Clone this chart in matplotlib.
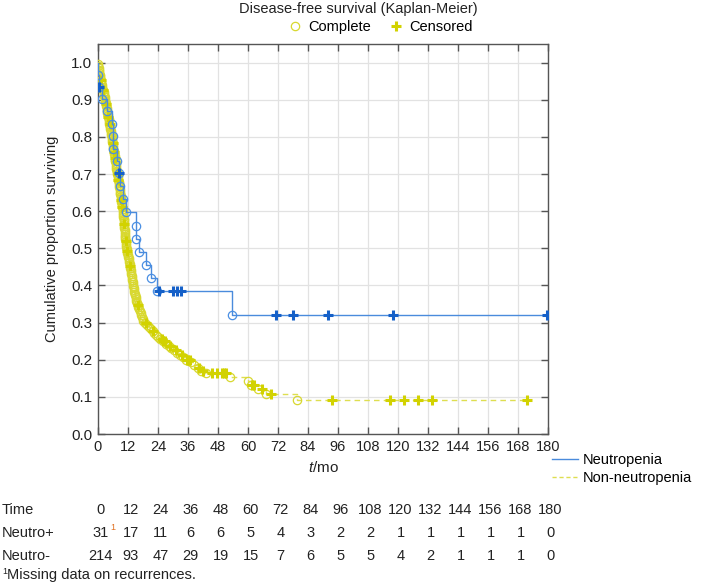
import matplotlib
matplotlib.use("Agg")
import matplotlib.pyplot as plt
from matplotlib.lines import Line2D
from matplotlib.transforms import blended_transform_factory

plt.rcParams['font.family'] = ['Liberation Sans', 'DejaVu Sans']
plt.rcParams['mathtext.fontset'] = 'custom'
plt.rcParams['mathtext.it'] = 'Liberation Sans:italic'
plt.rcParams['mathtext.rm'] = 'Liberation Sans'

# ---------------- data ----------------
n_neutro = 31
events_neutro = [0.2, 0.3, 1.7, 3.7, 5.7, 6.0, 6.2, 7.7, 8.3, 8.9, 10.1, 11.2,
                 15.0, 15.3, 16.3, 19.1, 21.3, 23.5, 53.7]
censor_neutro = [0.4, 8.4, 24.5, 29.9, 31.5, 31.5, 33.1, 71.2, 78.1, 92.1, 117.9, 179.5]

n_non = 214
events_non = [
    0.1, 0.2, 0.3, 0.4, 0.5, 0.6, 0.7, 0.9, 1.0, 1.1, 1.3, 1.4, 1.5, 1.7, 1.8, 2.0, 2.3, 2.4, 2.6, 2.8,
    2.9, 3.0, 3.1, 3.2, 3.4, 3.5, 3.6, 3.7, 3.8, 3.9, 4.0, 4.3, 4.4, 4.5, 4.6, 4.8, 4.9, 5.0, 5.1, 5.3,
    5.4, 5.5, 5.6, 5.7, 5.8, 5.9, 6.0, 6.1, 6.2, 6.3, 6.4, 6.6, 6.7, 6.8, 6.9, 7.0, 7.1, 7.2, 7.3, 7.4, 7.6,
    7.7, 7.8, 8.0, 8.1, 8.2, 8.3, 8.4, 8.5, 8.6, 8.7, 8.8, 8.9, 9.0, 9.1, 9.2, 9.3, 9.4, 9.5, 9.6, 9.7, 9.9,
    10.0, 10.1, 10.15, 10.2, 10.3, 10.35, 10.4, 10.5, 10.55, 10.6, 10.7, 10.75, 10.8, 10.9, 10.95, 11.0, 11.1,
    11.2, 11.3, 11.4, 11.5,
    11.6, 11.8, 11.9,
    12.1, 12.2, 12.3, 12.45, 12.6, 12.7, 12.85, 13.0, 13.1, 13.25, 13.4, 13.5,
    13.65, 13.8, 13.95, 14.1, 14.25, 14.4, 14.55, 14.7, 14.85, 15.0, 15.15, 15.3, 15.5,
    15.8, 16.1, 16.4, 16.7, 17.0, 17.3, 17.6, 17.8, 18.0,
    18.7, 19.5, 20.3, 21.0,
    21.8, 22.5, 23.2, 23.9,
    24.7, 25.8, 27.0, 28.2, 29.3, 30.5, 31.6, 32.7, 34.0, 35.2,
    37.0, 38.5, 39.8, 41.0, 43.2,
    52.8, 60.1, 61.2, 64.0, 67.0, 79.7]
censor_non = [1.2, 2.2, 3.3, 4.1, 4.7, 5.9, 6.5, 6.8, 7.9, 8.2, 9.3, 9.7, 10.5, 11.1, 11.7,
              12.8, 16.0, 19.0, 22.0,
              25.5, 26.1, 26.8, 28.8, 31.0, 33.5, 35.5, 35.8,
              36.8, 40.3, 41.9, 45.5, 47.5,
              49.5, 50.2, 51.0,
              61.5, 62.5, 65.5, 69.0,
              93.5, 116.8, 122.4, 128.1, 133.7, 171.7]

time_ticks = [0, 12, 24, 36, 48, 60, 72, 84, 96, 108, 120, 132, 144, 156, 168, 180]
at_risk_neutro = [31, 17, 11, 6, 6, 5, 4, 3, 2, 2, 1, 1, 1, 1, 1, 0]
at_risk_non = [214, 93, 47, 29, 19, 15, 7, 6, 5, 5, 4, 2, 1, 1, 1, 0]
y_ticks = [0.0, 0.1, 0.2, 0.3, 0.4, 0.5, 0.6, 0.7, 0.8, 0.9, 1.0]


def kaplan_meier(events, censors, n0):
    times = sorted(set(events) | set(censors))
    n = n0
    s = 1.0
    xs, ys = [0.0], [1.0]
    ev, ce = [], []
    for t in times:
        d = events.count(t)
        c = censors.count(t)
        if d:
            xs.append(t); ys.append(s)
            s *= (1 - d / n)
            xs.append(t); ys.append(s)
            ev.append((t, s))
        if c:
            ce.append((t, s))
        n -= d + c
    xs.append(times[-1]); ys.append(s)
    return xs, ys, ev, ce


BLUE_LINE = '#4a8bdc'
BLUE_CIRC = '#4a8fe3'
BLUE_PLUS = '#1560c8'
YEL_LINE = '#dede50'
YEL_CIRC = '#d8d830'
YEL_PLUS = '#d2d200'

fig = plt.figure(figsize=(7.04, 5.83), dpi=100)
ax = fig.add_axes([98 / 704, 1 - 434 / 583, 450 / 704, 390 / 583])

# non-neutropenia
xs, ys, ev, ce = kaplan_meier(events_non, censor_non, n_non)
ax.plot(xs, ys, color=YEL_LINE, lw=1.0, ls=(0, (4, 3)), zorder=3)
ax.plot([p[0] for p in ev], [p[1] for p in ev], ls='none', marker='o', ms=6,
        mfc='none', mec=YEL_CIRC, mew=0.9, zorder=4)
ax.plot([p[0] for p in ce], [p[1] for p in ce], ls='none', marker='+', ms=7,
        mec=YEL_PLUS, mew=2.2, zorder=4)

# neutropenia
xs, ys, ev, ce = kaplan_meier(events_neutro, censor_neutro, n_neutro)
xs[-1] = 180
ax.plot(xs, ys, color=BLUE_LINE, lw=1.0, zorder=5)
ax.plot([p[0] for p in ev], [p[1] for p in ev], ls='none', marker='o', ms=6,
        mfc='none', mec=BLUE_CIRC, mew=0.9, zorder=6)
ax.plot([p[0] for p in ce], [p[1] for p in ce], ls='none', marker='+', ms=7,
        mec=BLUE_PLUS, mew=2.2, zorder=6)

ax.set_xlim(0, 180)
ax.set_ylim(0, 1.05)
ax.set_xticks(time_ticks)
ax.set_xticklabels([str(t) for t in time_ticks], fontsize=10.5)
ax.set_yticks(y_ticks)
ax.set_yticklabels([f'{v:.1f}' for v in y_ticks], fontsize=11)
ax.tick_params(direction='in', top=True, right=True, length=5, width=1,
               color='#555555', pad=4, labelcolor='#222222')
ax.grid(True, color='#e2e2e2', lw=0.9)
ax.set_axisbelow(True)
for s in ax.spines.values():
    s.set_color('#555555')
    s.set_linewidth(1.0)

ax.set_ylabel('Cumulative proportion surviving', fontsize=10.5, color='#222222', labelpad=9)
ax.set_xlabel(r'$t$/mo', fontsize=11, color='#222222', labelpad=5)

# title and top legend
fig.text(358 / 704, 1 - 9 / 583, 'Disease-free survival (Kaplan-Meier)', ha='center', va='center',
         fontsize=10.5, color='#222222')
top_handles = [Line2D([], [], ls='none', marker='o', ms=6, mfc='none', mec=YEL_CIRC, mew=0.9),
               Line2D([], [], ls='none', marker='+', ms=7, mec=YEL_PLUS, mew=2.2)]
fig.legend(top_handles, ['Complete', 'Censored'], loc='center', ncol=2,
           bbox_to_anchor=(380 / 704, 1 - 27 / 583), frameon=False, fontsize=10.5,
           handlelength=1.0, handletextpad=0.4, columnspacing=1.2, borderpad=0)

# right legend
line_handles = [Line2D([], [], color=BLUE_LINE, lw=1.0),
                Line2D([], [], color=YEL_LINE, lw=1.0, ls=(0, (3, 2)))]
fig.legend(line_handles, ['Neutropenia', 'Non-neutropenia'], loc='upper left',
           bbox_to_anchor=(552 / 704, 1 - 453 / 583), frameon=False, fontsize=10.5,
           handlelength=1.8, handletextpad=0.3, labelspacing=0.25, borderpad=0,
           borderaxespad=0)

# risk table
tr = blended_transform_factory(ax.transData, fig.transFigure)
rows = [('Time', time_ticks, 510), ('Neutro+', at_risk_neutro, 533), ('Neutro-', at_risk_non, 556)]
for label, vals, ypx in rows:
    fig.text(2 / 704, 1 - ypx / 583, label, ha='left', va='center', fontsize=10.5, color='#222222')
    for t, v in zip(time_ticks, vals):
        ax.text(t + 1.0, 1 - ypx / 583, str(v), transform=tr, ha='center', va='center',
                fontsize=10.5, color='#222222', clip_on=False)
fig.text(110 / 704, 1 - 527 / 583, '1', ha='left', va='center', fontsize=6.5, color='#e07020')
fig.text(2 / 704, 1 - 571 / 583, '1', ha='left', va='center', fontsize=6.5, color='#222222')
fig.text(7 / 704, 1 - 575 / 583, 'Missing data on recurrences.', ha='left', va='center',
         fontsize=10.5, color='#222222')

fig.savefig('out.png', dpi=100)
